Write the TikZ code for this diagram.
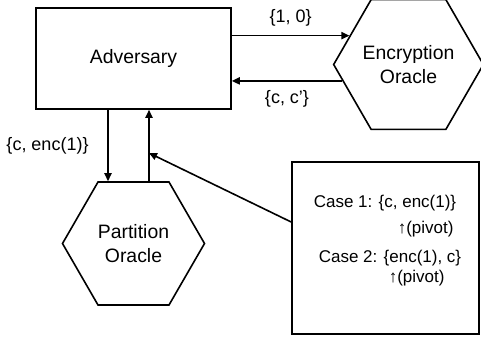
\documentclass[tikz,border=0pt]{standalone}
\usepackage{fontspec}
\setmainfont{Liberation Sans}
\usetikzlibrary{shapes.geometric,arrows.meta,calc,positioning}

\begin{document}
\begin{tikzpicture}[x=0.5pt,y=-0.5pt,
	line width=0.8pt,
	every node/.style={font=\fontsize{9.7}{12}\selectfont},
	box/.style={draw, rectangle, inner sep=0pt},
	oracle/.style={draw, regular polygon, regular polygon sides=6, minimum size=71pt, inner sep=0pt, align=center},
	msg/.style={font=\fontsize{9}{11}\selectfont},
	casetext/.style={font=\fontsize{8.5}{10}\selectfont, anchor=west, inner sep=0pt},
	arr/.style={-{Triangle[length=4pt,width=3.6pt]}}]
	\useasboundingbox (0,0) rectangle (481,339);

	\node[box, minimum width=97.5pt, minimum height=50.5pt] (adv) at (133.5,58.5) {Adversary};
	\node[oracle] (enc) at (408.5,64.5) {Encryption\\Oracle};
	\node[oracle] (part) at (133.5,243.5) {Partition\\Oracle};
	\node[box, minimum width=93.5pt, minimum height=86pt] (cases) at (385.5,248) {};

	\node[casetext] (case1) at (313,203) {Case 1: \{c, enc(1)\}};
	\node[casetext] (pivot1) at (397,229) {↑(pivot)};
	\node[casetext] (case2) at (318,258) {Case 2: \{enc(1), c\}};
	\node[casetext] (pivot2) at (388,278) {↑(pivot)};

	\coordinate (encin) at ($(enc.180)!0.44!(enc.120)$);
	\coordinate (encout) at ($(enc.180)!0.25!(enc.240)$);
	\coordinate (dn) at ([xshift=-12.75pt]adv.south);
	\coordinate (up) at ([xshift=7.75pt]adv.south);
	\coordinate (pv) at (up |- 0,153);

	\draw[arr] (adv.east |- encin) -- (encin) node[msg, midway, above=1pt] {\{1, 0\}};
	\draw[arr] (encout) -- (adv.east |- encout) node[msg, midway, below=1pt] {\{c, c’\}};
	\draw[arr] (dn) -- (dn |- part.north) node[msg, midway, left=6pt] {\{c, enc(1)\}};
	\draw[arr] (up |- part.north) -- (up);
	\draw[arr] (cases.west |- 0,222) -- (pv);
\end{tikzpicture}
\end{document}
